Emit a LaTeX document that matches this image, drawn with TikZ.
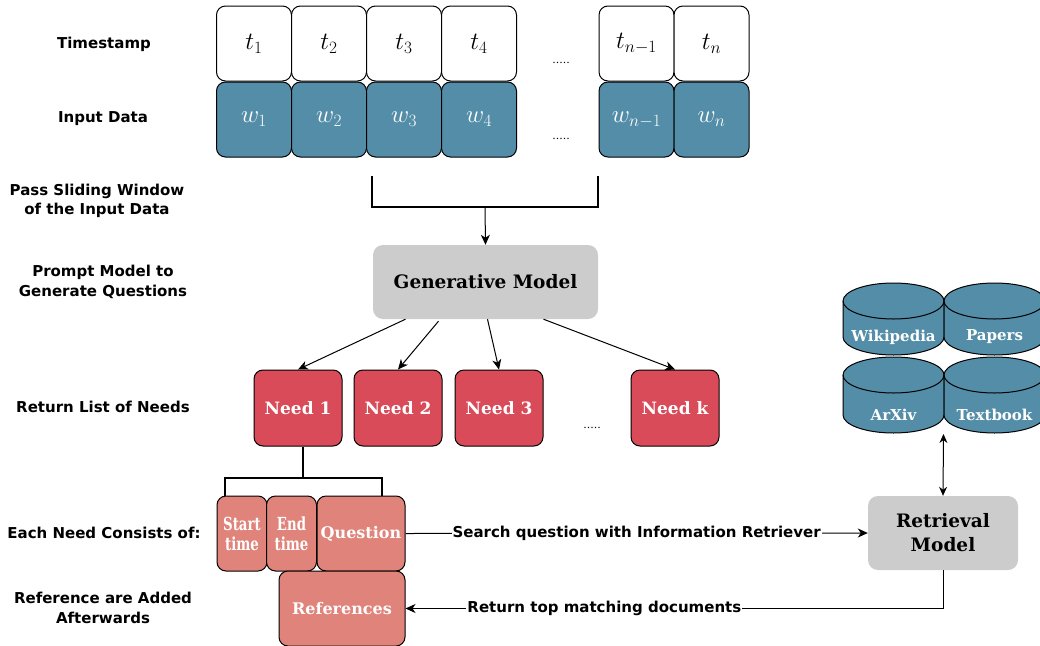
\documentclass[tikz,border=0pt]{standalone}
\usepackage{fontspec}
\setmainfont{DejaVu Serif}
\newfontfamily\labfont{DejaVu Sans}
\newfontfamily\condserif[FakeStretch=0.74]{DejaVu Serif}
\usetikzlibrary{arrows.meta,calc}
\definecolor{tealc}{HTML}{548DA7}
\definecolor{needc}{HTML}{D94B59}
\definecolor{partc}{HTML}{E0837A}
\definecolor{grayc}{HTML}{CCCCCC}
\newcommand\dbcyl[6]{% x1 x2 ytop-centre ybottom-centre name text
  \filldraw[fill=tealc, line width=1pt] (#1,#3) -- (#1,#4)
    arc[start angle=180,end angle=0,x radius={(#2-#1)/2},y radius=18] -- (#2,#3)
    arc[start angle=0,end angle=-180,x radius={(#2-#1)/2},y radius=18] -- cycle;
  \draw[line width=1pt] (#1,#3) arc[start angle=180,end angle=0,x radius={(#2-#1)/2},y radius=18];
  \node[dbtext] (#5) at ({(#1+#2)/2},{#4}) {#6};
}
\begin{document}
\begin{tikzpicture}[x=1pt,y=-1pt,
  box/.style={draw, line width=1pt, rounded corners=9pt, inner sep=0pt, align=center},
  tbox/.style={box, fill=white, minimum width=75pt, minimum height=75pt, font=\fontsize{23}{25}\selectfont},
  wbox/.style={box, fill=tealc, text=white, minimum width=75pt, minimum height=75pt, font=\fontsize{23}{25}\selectfont},
  lbl/.style={font=\labfont\bfseries\fontsize{15}{19.5}\selectfont, align=center},
  mdl/.style={fill=grayc, rounded corners=10pt, inner sep=0pt, align=center, font=\bfseries\fontsize{18.5}{24}\selectfont},
  needbox/.style={box, fill=needc, text=white, minimum width=88pt, minimum height=76pt, font=\bfseries\fontsize{17}{20}\selectfont},
  partbox/.style={box, fill=partc, text=white, minimum height=75pt, font=\bfseries\fontsize{16}{19}\selectfont},
  dbtext/.style={text=white, font=\bfseries\fontsize{15}{17}\selectfont},
  dots/.style={font=\fontsize{11}{12}\selectfont},
  conn/.style={line width=1pt, -{Stealth[length=10pt,width=9pt,inset=3pt]}},
  thick2/.style={line width=2pt},
  clabel/.style={fill=white, inner sep=1pt, font=\labfont\bfseries\fontsize{15}{17}\selectfont}
]
\useasboundingbox (0,0) rectangle (1040,645);

% side labels
\node[lbl] (L1) at (104,44) {Timestamp};
\node[lbl] (L2) at (103,119) {Input Data};
\node[lbl] (L3) at (97,201) {Pass Sliding Window\\of the Input Data};
\node[lbl] (L4) at (103,282) {Prompt Model to\\Generate Questions};
\node[lbl] (L5) at (103,407) {Return List of Needs};
\node[lbl] (L6) at (104,533) {Each Need Consists of:};
\node[lbl] (L7) at (103,608) {Reference are Added\\Afterwards};

% timestamps and input data
\node[tbox] (t1) at (254,43.5) {$t_1$};
\node[tbox] (t2) at (329,43.5) {$t_2$};
\node[tbox] (t3) at (404,43.5) {$t_3$};
\node[tbox] (t4) at (479,43.5) {$t_4$};
\node[tbox] (tn1) at (636.5,43.5) {$t_{n-1}$};
\node[tbox] (tn) at (711.5,43.5) {$t_n$};
\node[wbox] (w1) at (254,119.5) {$w_1$};
\node[wbox] (w2) at (329,119.5) {$w_2$};
\node[wbox] (w3) at (404,119.5) {$w_3$};
\node[wbox] (w4) at (479,119.5) {$w_4$};
\node[wbox] (wn1) at (636.5,119.5) {$w_{n-1}$};
\node[wbox] (wn) at (711.5,119.5) {$w_n$};
\node[dots] (d1) at (561,63) {.....};
\node[dots] (d2) at (561,139) {.....};

% sliding window bracket
\coordinate (bl) at (372,176);
\coordinate (br) at (598,176);
\coordinate (bm) at (485,207);
\draw[thick2] (bl) |- (bm) -| (br);

% generative model
\node[mdl, minimum width=225pt, minimum height=74pt] (gen) at (485.5,282) {Generative Model};
\draw[conn] (bm) -- (gen.north);

% needs
\node[needbox] (n1) at (298,408) {Need 1};
\node[needbox] (n2) at (398,408) {Need 2};
\node[needbox] (n3) at (499,408) {Need 3};
\node[needbox] (nk) at (675,408) {Need k};
\node[dots] (d3) at (592,428) {.....};
\draw[conn] ($(gen.south)+(-80,0)$) -- (n1.north);
\draw[conn] ($(gen.south)+(-47,2)$) -- (n2.north);
\draw[conn] ($(gen.south)+(2,0)$) -- (n3.north);
\draw[conn] ($(gen.south)+(58,0)$) -- (nk.north);

% parts of a need
\node[partbox, minimum width=50pt, font=\condserif\bfseries\fontsize{18}{21}\selectfont] (st) at (242,533.5) {Start\\[-1pt]time};
\node[partbox, minimum width=50pt, font=\condserif\bfseries\fontsize{18}{21}\selectfont] (et) at (291.5,533.5) {End\\[-1pt]time};
\node[partbox, minimum width=88pt] (qu) at (361,533.5) {Question};
\node[partbox, minimum width=126pt] (ref) at (342,608.5) {References};
\coordinate (tj) at ($(n1.south)+(5,31)$);
\draw[thick2] (n1.south -| tj) -- (tj);
\draw[thick2] ($(st.north)+(-17,0)$) |- (tj) -| ($(qu.north)+(21,0)$);

% retrieval model
\node[mdl, minimum width=150pt, minimum height=74pt] (ret) at (943,533) {Retrieval\\Model};
\draw[conn] (qu.east) -- node[clabel, pos=0.5] {Search question with Information Retriever} (ret.west);
\draw[conn] (ret.south) |- node[clabel, pos=0.815] {Return top matching documents} (ref.east);

% databases
\dbcyl{843}{944}{301}{337}{wiki}{Wikipedia}
\dbcyl{944}{1045}{301}{337}{pap}{Papers}
\dbcyl{843}{944}{375}{415}{arx}{ArXiv}
\dbcyl{944}{1045}{375}{415}{txt}{Textbook}
\coordinate (dbb) at (943.5,434);
\draw[line width=1pt, {Stealth[length=9pt,width=8pt,inset=3pt]}-{Stealth[length=9pt,width=8pt,inset=3pt]}] (ret.north) -- (dbb);
\end{tikzpicture}
\end{document}
